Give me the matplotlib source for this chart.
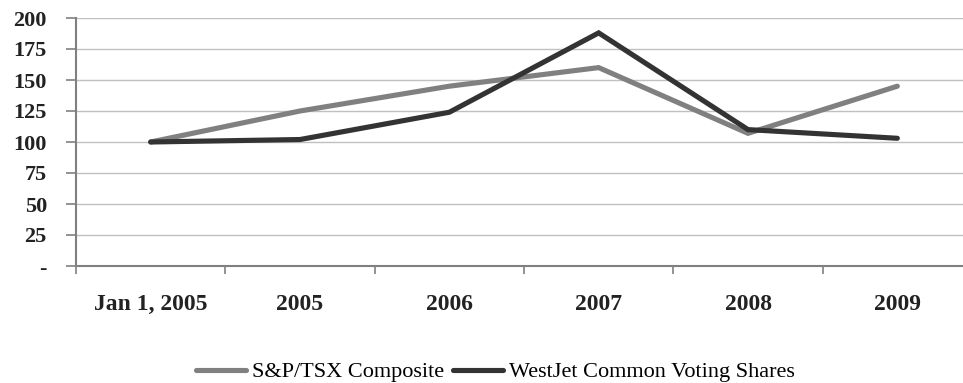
import matplotlib
matplotlib.use("Agg")
import matplotlib.pyplot as plt

# data
periods = ["Jan 1, 2005", "2005", "2006", "2007", "2008", "2009"]
sp_tsx = [100, 125, 145, 160, 107, 145]
westjet = [100, 102, 124, 188, 110, 103]
y_ticks = [0, 25, 50, 75, 100, 125, 150, 175, 200]
y_labels = ["-", "25", "50", "75", "100", "125", "150", "175", "200"]

plt.rcParams["font.family"] = ["Liberation Serif", "DejaVu Serif"]

fig = plt.figure(figsize=(9.63, 3.83), dpi=100)
ax = fig.add_axes([76 / 963, 117 / 383, 896 / 963, 248 / 383])

x = list(range(len(periods)))
ax.plot(x, sp_tsx, color="#808080", lw=3.7, solid_joinstyle="miter",
        solid_capstyle="round", label="S&P/TSX Composite", zorder=3)
ax.plot(x, westjet, color="#333333", lw=3.7, solid_joinstyle="miter",
        solid_capstyle="round", label="WestJet Common Voting Shares", zorder=4)

ax.set_xlim(-0.5, 5.5)
ax.set_ylim(0, 200)
ax.set_yticks(y_ticks)
ax.set_yticklabels(y_labels, fontsize=16, fontweight="bold", color="#222222")
ax.yaxis.grid(True, color="#c0c0c0", lw=1)
ax.set_axisbelow(True)

# category labels in the middle, tick marks at the boundaries
ax.set_xticks(x)
ax.set_xticklabels(periods, fontsize=17, fontweight="bold", color="#222222")
ax.tick_params(axis="x", which="major", length=0, pad=20)
ax.set_xticks([i - 0.5 for i in x] + [5.5], minor=True)
ax.tick_params(axis="x", which="minor", length=6, width=1.2, color="#808080",
               direction="out")
ax.tick_params(axis="y", length=7, width=1.2, color="#808080", pad=14)

for s in ["top", "right"]:
    ax.spines[s].set_visible(False)
for s in ["left", "bottom"]:
    ax.spines[s].set_color("#808080")
    ax.spines[s].set_linewidth(1.5)

fig.legend(loc="center", bbox_to_anchor=(495 / 963, 1 - 372 / 383), ncol=2,
           frameon=False, fontsize=16, handlelength=2.25, handletextpad=0.27,
           columnspacing=0.4)

fig.savefig("out.png", dpi=100)
